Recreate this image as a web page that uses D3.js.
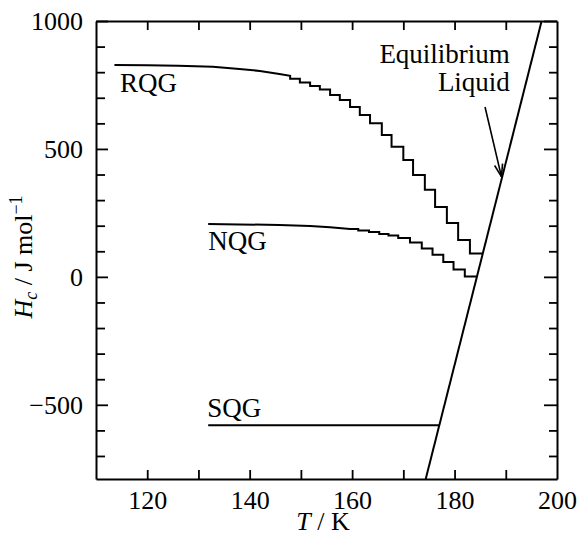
<!DOCTYPE html>
<html>
<head>
<meta charset="utf-8">
<script src="https://cdn.jsdelivr.net/npm/d3@7"></script>
<style>
  body { margin: 0; background: #fff; }
  svg { display: block; }
  text { font-family: "Liberation Serif", "Times New Roman", serif; fill: #000; }
</style>
</head>
<body>
<svg id="chart" width="578" height="541"></svg>
<script>
// axes
const xDomain = [110, 200];
const yDomain = [-790, 1000];
const xTicks = [120, 130, 140, 150, 160, 170, 180, 190];
const xLabels = [120, 140, 160, 180, 200];
const yMinor = [-700, -600, -400, -300, -200, -100, 100, 200, 300, 400, 600, 700, 800, 900];
const yMajor = [-500, 0, 500, 1000];

// RQG: smooth part then stair steps
const rqgSmoothT = [113.6, 120, 126, 132.8, 138, 142, 145.8, 147.9];
const rqgSmoothH = [828, 827, 825, 821, 812, 805, 793, 786];
const rqgStepT = [147.9, 149.8, 151.8, 153.7, 155.7, 157.6, 159.6, 161.5, 163.5, 165.8,
                  167.7, 170.0, 171.9, 174.2, 176.2, 178.5, 180.7, 183.0];
const rqgStepH = [774, 760, 746, 732, 711, 691, 664, 633, 600, 554,
                  509, 457, 398, 340, 273, 211, 144, 91];
const rqgEndT = 185.5;

// NQG
const nqgSmoothT = [131.9, 138, 145.8, 151.8, 155.7, 159.6];
const nqgSmoothH = [207, 205, 203, 199, 194, 187];
const nqgStepT = [161.2, 163.3, 165.3, 167.1, 169.0, 171.3, 173.6, 175.7, 177.8, 179.8, 182.0];
const nqgStepH = [181, 175, 168, 162, 152, 134, 111, 86, 58, 29, 1];
const nqgEndT = 184.4;

// SQG
const sqgT = [131.9, 177.0];
const sqgH = [-580, -580];

// equilibrium liquid
const liqT = [174.37, 197.0];
const liqH = [-790, 1000];

const svg = d3.select("#chart");
const x = d3.scaleLinear().domain(xDomain).range([96, 557]);
const y = d3.scaleLinear().domain(yDomain).range([479, 21]);

// ticks (all inward)
svg.append("g").attr("transform", "translate(0,479)")
    .call(d3.axisBottom(x).tickValues(xTicks).tickSize(-9).tickSizeOuter(0).tickFormat(""));
svg.append("g").attr("transform", "translate(0,479)")
    .call(d3.axisBottom(x).tickValues(xLabels).tickSize(0).tickPadding(12).tickFormat(d3.format("d")))
    .call(g => g.select(".domain").remove());
svg.append("g").attr("transform", "translate(0,21)")
    .call(d3.axisTop(x).tickValues(xTicks).tickSize(-9).tickSizeOuter(0).tickFormat(""));
svg.append("g").attr("transform", "translate(96,0)")
    .call(d3.axisLeft(y).tickValues(yMinor).tickSize(-9).tickSizeOuter(0).tickFormat(""));
svg.append("g").attr("transform", "translate(96,0)")
    .call(d3.axisLeft(y).tickValues(yMajor).tickSize(-12).tickPadding(13).tickSizeOuter(0)
        .tickFormat(d3.format("d")))
    .call(g => g.select(".domain").remove());
svg.append("g").attr("transform", "translate(557,0)")
    .call(d3.axisRight(y).tickValues(yMinor).tickSize(-8).tickSizeOuter(0).tickFormat(""));
svg.append("g").attr("transform", "translate(557,0)")
    .call(d3.axisRight(y).tickValues(yMajor).tickSize(-13).tickSizeOuter(0).tickFormat(""))
    .call(g => g.select(".domain").remove());

svg.selectAll(".domain").attr("stroke-width", 2);
svg.selectAll(".tick line").attr("stroke-width", 1.8);
svg.selectAll(".tick text").attr("font-size", 26).attr("font-family", "Liberation Serif");

// helper to build stair vertices
function stairs(sT, sH, stT, stH, endT) {
    const pts = sT.map((t, i) => [t, sH[i]]);
    let prev = sH[sH.length - 1];
    stT.forEach((t, i) => {
        pts.push([t, prev]);
        pts.push([t, stH[i]]);
        prev = stH[i];
    });
    pts.push([endT, prev]);
    return pts;
}

const line = d3.line().x(d => x(d[0])).y(d => y(d[1]));

svg.append("defs").append("clipPath").attr("id", "plot")
    .append("rect").attr("x", 96).attr("y", 21).attr("width", 461).attr("height", 458);

const curves = [
    stairs(rqgSmoothT, rqgSmoothH, rqgStepT, rqgStepH, rqgEndT),
    stairs(nqgSmoothT, nqgSmoothH, nqgStepT, nqgStepH, nqgEndT),
    sqgT.map((t, i) => [t, sqgH[i]]),
    liqT.map((t, i) => [t, liqH[i]])
];

svg.append("g").attr("clip-path", "url(#plot)")
    .selectAll("path").data(curves).join("path")
    .attr("d", line)
    .attr("fill", "none")
    .attr("stroke", "black")
    .attr("stroke-width", 2)
    .attr("stroke-linejoin", "miter");

// curve labels
const labels = [
    {t: "RQG", T: 114.7, H: 722, anchor: "start"},
    {t: "NQG", T: 131.9, H: 105, anchor: "start"},
    {t: "SQG", T: 131.7, H: -547, anchor: "start"},
    {t: "Equilibrium", T: 190.8, H: 836, anchor: "end"},
    {t: "Liquid", T: 190.8, H: 726, anchor: "end"}
];
svg.selectAll(".lbl").data(labels).join("text")
    .attr("class", "lbl")
    .attr("x", d => x(d.T))
    .attr("y", d => y(d.H))
    .attr("text-anchor", d => d.anchor)
    .attr("font-size", 27)
    .text(d => d.t);

// arrow to the liquid line
const arrowFrom = [185.95, 664];
const arrowTo = [189.15, 392];
const ax1 = x(arrowFrom[0]), ay1 = y(arrowFrom[1]);
const ax2 = x(arrowTo[0]), ay2 = y(arrowTo[1]);
svg.append("line")
    .attr("x1", ax1).attr("y1", ay1).attr("x2", ax2).attr("y2", ay2)
    .attr("stroke", "black").attr("stroke-width", 1.6);
const ang = Math.atan2(ay2 - ay1, ax2 - ax1);
[-0.32, 0.32].forEach(a => {
    svg.append("line")
        .attr("x1", ax2).attr("y1", ay2)
        .attr("x2", ax2 - 13 * Math.cos(ang + a))
        .attr("y2", ay2 - 13 * Math.sin(ang + a))
        .attr("stroke", "black").attr("stroke-width", 1.6);
});

// axis titles
const xt = svg.append("text")
    .attr("x", 323).attr("y", 530)
    .attr("text-anchor", "middle")
    .attr("font-size", 26);
xt.append("tspan").attr("font-style", "italic").text("T");
xt.append("tspan").text(" / K");

const yt = svg.append("text")
    .attr("transform", "translate(32,257) rotate(-90)")
    .attr("text-anchor", "middle")
    .attr("font-size", 26);
yt.append("tspan").attr("font-style", "italic").text("H");
yt.append("tspan").attr("font-style", "italic").attr("font-size", 18).attr("dy", 5).text("c");
yt.append("tspan").attr("dy", -5).text(" / J mol");
yt.append("tspan").attr("font-size", 18).attr("dy", -10).text("−1");
</script>
</body>
</html>
